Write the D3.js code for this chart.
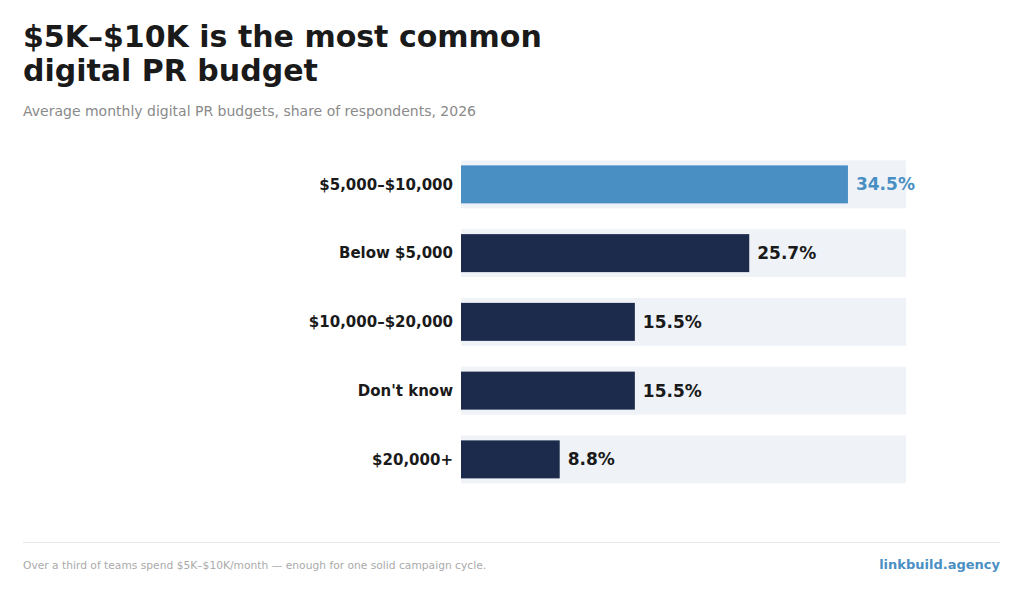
<!DOCTYPE html>
<html><head><meta charset="utf-8">
<script src="https://cdn.jsdelivr.net/npm/d3@7"></script>
<style>body{margin:0;background:#fff;font-family:"DejaVu Sans",sans-serif}</style>
</head><body><svg id="c" width="1024" height="594"></svg>
<script>
const categories = ["$5,000–$10,000","Below $5,000","$10,000–$20,000","Don't know","$20,000+"];
const values = [34.5,25.7,15.5,15.5,8.8];
const valueLabels = ["34.5%","25.7%","15.5%","15.5%","8.8%"];

const svg = d3.select("#c");
const x = d3.scaleLinear().domain([0, 34.5*1.15]).range([461, 906]);
const y = d3.scaleBand().domain(categories).range([150, 493.75]);
const yc = c => y(c) + y.bandwidth()/2;

svg.append("text").attr("x",23).attr("y",47).attr("font-size",30).attr("font-weight","bold").attr("fill","#1a1a1a").text("$5K–$10K is the most common");
svg.append("text").attr("x",23).attr("y",81).attr("font-size",30).attr("font-weight","bold").attr("fill","#1a1a1a").text("digital PR budget");
svg.append("text").attr("x",23).attr("y",116).attr("font-size",14).attr("fill","#8a8a8a").text("Average monthly digital PR budgets, share of respondents, 2026");

const g = svg.append("g");
categories.forEach((c,i)=>{
  const cy = yc(c);
  g.append("rect").attr("x",x(0)).attr("y",cy-24).attr("width",x.range()[1]-x(0)).attr("height",48).attr("fill","#eff3f8");
  g.append("rect").attr("x",x(0)).attr("y",cy-19).attr("width",x(values[i])-x(0)).attr("height",38).attr("fill",i===0?"#4a8fc4":"#1c2b4b");
  g.append("text").attr("x",453).attr("y",cy).attr("dy","0.35em").attr("text-anchor","end").attr("font-size",15).attr("font-weight","bold").attr("fill","#1a1a1a").text(c);
  g.append("text").attr("x",x(values[i])+8).attr("y",cy).attr("dy","0.35em").attr("font-size",17).attr("font-weight","bold").attr("fill",i===0?"#4a8fc4":"#1a1a1a").text(valueLabels[i]);
});

svg.append("line").attr("x1",23).attr("x2",1000).attr("y1",542.5).attr("y2",542.5).attr("stroke","#e6e6e6");
svg.append("text").attr("x",23).attr("y",569).attr("font-size",10.7).attr("fill","#aaaaaa").text("Over a third of teams spend $5K–$10K/month — enough for one solid campaign cycle.");
svg.append("text").attr("x",1000).attr("y",569).attr("text-anchor","end").attr("font-size",13).attr("font-weight","bold").attr("fill","#4a8fc4").text("linkbuild.agency");
</script></body></html>
